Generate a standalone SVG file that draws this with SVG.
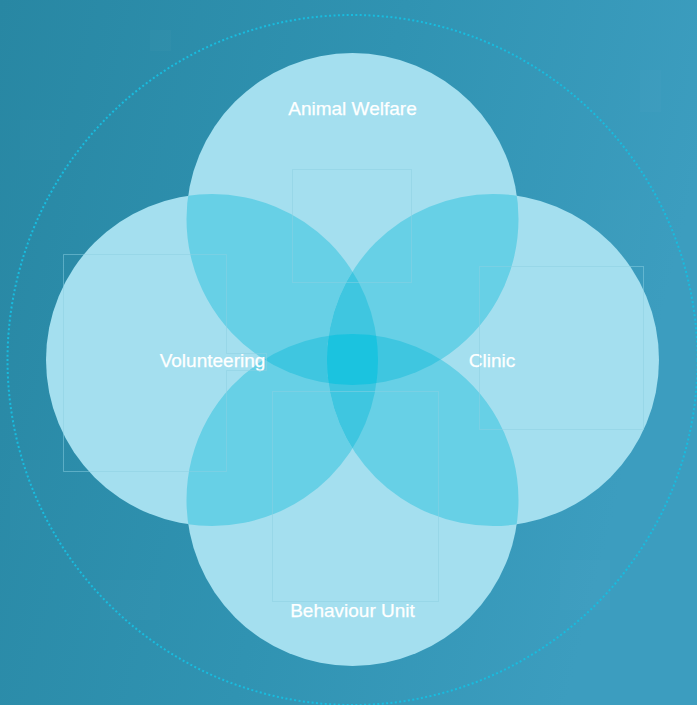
<svg xmlns="http://www.w3.org/2000/svg" width="697" height="705" viewBox="0 0 697 705">
  <defs>
    <linearGradient id="bg" x1="0" y1="0" x2="1" y2="0.25">
      <stop offset="0" stop-color="#2887a3"/>
      <stop offset="0.55" stop-color="#3093b2"/>
      <stop offset="1" stop-color="#3c9dbf"/>
    </linearGradient>
    <!-- the four circle shapes, reused for fills and clipping -->
    <circle id="cT" cx="352.5" cy="219" r="166"/>
    <circle id="cB" cx="352.5" cy="500" r="166"/>
    <circle id="cL" cx="212" cy="360" r="166"/>
    <circle id="cR" cx="493" cy="360" r="166"/>
    <clipPath id="clipT"><use href="#cT"/></clipPath>
    <clipPath id="clipB"><use href="#cB"/></clipPath>
    <clipPath id="clipL"><use href="#cL"/></clipPath>
    <clipPath id="clipTB"><use href="#cT"/><use href="#cB"/></clipPath>
    <clipPath id="clipTBL"><use href="#cT"/><use href="#cB"/><use href="#cL"/></clipPath>
    <style>
      .disc { fill: #a4dfef; }
      .two { fill: #67d0e6; }
      .three { fill: #3fc6e0; }
      .four { fill: #1bc3df; }
      .frame { fill: none; stroke: #8ccfe2; stroke-opacity: 0.5; stroke-width: 1; }
      .label { font-family: "Liberation Sans", Arial, sans-serif; font-size: 19px; fill: #ffffff; stroke: #ffffff; stroke-width: 0.25; text-anchor: middle; }
      .tile { fill: #ffffff; }
    </style>
  </defs>

  <!-- background -->
  <rect width="697" height="705" fill="url(#bg)"/>
  <g id="texture">
    <rect class="tile" x="150" y="30" width="21" height="21" opacity="0.018"/>
    <rect class="tile" x="640" y="70" width="21" height="42" opacity="0.02"/>
    <rect class="tile" x="600" y="200" width="40" height="60" opacity="0.012"/>
    <rect class="tile" x="100" y="580" width="60" height="40" opacity="0.015"/>
    <rect class="tile" x="10" y="460" width="30" height="80" opacity="0.01"/>
    <rect class="tile" x="560" y="560" width="50" height="50" opacity="0.015"/>
    <rect class="tile" x="20" y="120" width="40" height="40" opacity="0.01"/>
  </g>

  <!-- dotted outer ring -->
  <circle cx="352.5" cy="360" r="345" fill="none" stroke="#18bcdf" stroke-width="2" stroke-dasharray="2 2.4"/>

  <!-- top -->
  <g id="node-animal-welfare">
    <use href="#cT" class="disc"/>
    <text class="label" x="352.5" y="115">Animal Welfare</text>
  </g>

  <!-- bottom -->
  <g id="node-behaviour-unit">
    <use href="#cB" class="disc"/>
    <text class="label" x="352.5" y="617">Behaviour Unit</text>
  </g>

  <!-- left: shades its overlaps with top and bottom -->
  <g id="node-volunteering">
    <use href="#cL" class="disc"/>
    <g clip-path="url(#clipTB)"><use href="#cL" class="two"/></g>
    <g clip-path="url(#clipT)"><g clip-path="url(#clipB)"><use href="#cL" class="three"/></g></g>
    <text class="label" x="212.5" y="367">Volunteering</text>
  </g>

  <!-- right: shades its overlaps with all others -->
  <g id="node-clinic">
    <use href="#cR" class="disc"/>
    <g clip-path="url(#clipTBL)"><use href="#cR" class="two"/></g>
    <g clip-path="url(#clipL)"><use href="#cR" class="three"/></g>
    <g clip-path="url(#clipT)"><g clip-path="url(#clipB)"><use href="#cR" class="three"/></g></g>
    <g clip-path="url(#clipT)"><g clip-path="url(#clipB)"><g clip-path="url(#clipL)"><use href="#cR" class="four"/></g></g></g>
    <text class="label" x="492" y="367">Clinic</text>
  </g>

  <!-- faint content frames -->
  <g id="frames">
    <rect class="frame" x="292.5" y="169.5" width="119" height="113"/>
    <path class="frame" d="M63.5,254.5 H226.5 V353.5 H266.5 V370.5 H226.5 V471.5 H63.5 Z"/>
    <rect class="frame" x="479.5" y="266.5" width="164" height="163"/>
    <rect class="frame" x="272.5" y="391.5" width="166" height="210"/>
  </g>
</svg>
